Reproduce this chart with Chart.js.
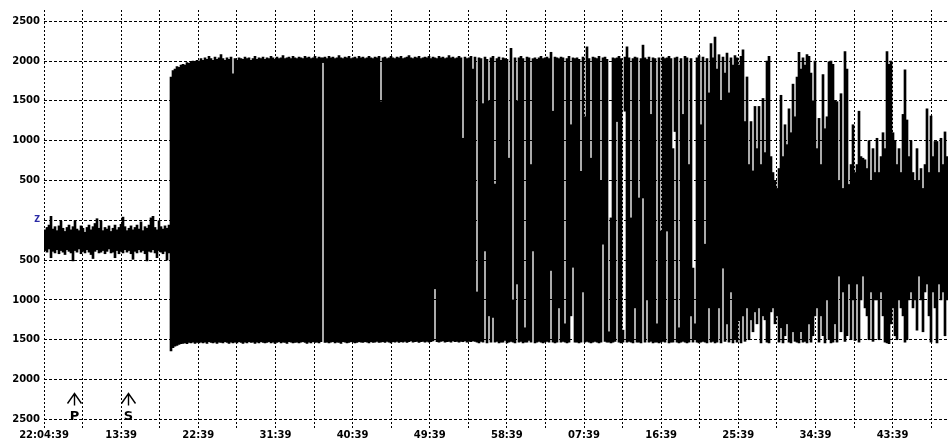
<!DOCTYPE html>
<html>
<head>
<meta charset="utf-8">
<title>Sismograma Z</title>
<script src="https://cdn.jsdelivr.net/npm/chart.js@4/dist/chart.umd.min.js"></script>
<style>
  html, body { margin: 0; padding: 0; background: #fff; }
  #wrap { width: 948px; height: 441px; }
</style>
</head>
<body>
<div id="wrap"><canvas id="sismo"></canvas></div>
<script>
// Tiempo en segundos desde 22:04:39; cada columna del trazo = 14 s (min / max)
const columnStep = 14;
const timeEnd = 6328;

// Ruido previo (antes de la llegada fuerte)
const preTop = [
  -120, -90, -60, 50, -110, -80, -130, -70, -10,
  -100, -140, -90, -60, -120, -80, 0, -110, -130,
  -70, -100, -150, -90, -60, -120, -80, -40, 20,
  -100, -10, -130, -90, -110, -70, -140, -100, -60,
  -120, -90, -50, 40, -80, -130, -100, -70, -120,
  -90, -60, -110, -20, -130, -80, -100, -60, 30,
  50, -90, -120, 0, -80, -110, -70, -100, -60
];
const preBottom = [
  -380, -400, -360, -470, -390, -410, -370, -420, -380,
  -400, -430, -370, -390, -410, -510, -380, -400, -360,
  -420, -390, -410, -370, -400, -430, -480, -390, -370,
  -410, -400, -380, -420, -390, -360, -410, -400, -470,
  -380, -420, -390, -410, -370, -400, -380, -420, -490,
  -390, -410, -370, -400, -380, -420, -510, -390, -400,
  -370, -410, -470, -380, -400, -420, -390, -500, -410
];

// Bloque saturado
const mainTop = [
  1800, 1880, 1900, 1930, 1920, 1950, 1960, 1950, 1980, 1970, 1990, 2000, 1990, 2010, 2000, 2030,
  2010, 2040, 2020, 2060, 2030, 2010, 2050, 2020, 2040, 2080, 2030, 2010, 2040, 2020, 2050, 1840,
  2030, 2010, 2040, 2030, 2020, 2050, 2030, 2040, 2010, 2030, 2060, 2020, 2040, 2030, 2050, 2020,
  2040, 2030, 2060, 2040, 2020, 2050, 2030, 2040, 2070, 2030, 2040, 2050, 2030, 2060, 2040, 2030,
  2050, 2040, 2030, 2060, 2040, 2050, 2030, 2040, 2060, 2030, 2050, 2040, 2040, 2050, 2030, 2060,
  2040, 2050, 2030, 2040, 2070, 2040, 2030, 2050, 2040, 2060, 2030, 2040, 2050, 2030, 2060, 2040,
  2050, 2030, 2040, 2060, 2040, 2030, 2050, 2040, 2060, 1490, 2040, 2050, 2030, 2040, 2060, 2040,
  2030, 2050, 2040, 2060, 2030, 2040, 2050, 2070, 2040, 2030, 2050, 2040, 2060, 2030, 2040, 2050,
  2040, 2060, 2030, 2050, 2040, 2030, 2060, 2040, 2050, 2030, 2040, 2070, 2040, 2050, 2030, 2040,
  2060, 2040, 1030, 2050, 2030, 2040, 2060, 1900, 2050
];
const mainBottom = [
  -1640, -1600, -1580, -1570, -1560, -1550, -1545, -1540, -1550, -1535, -1540, -1530, -1545, -1535, -1540, -1530,
  -1540, -1530, -1545, -1525, -1535, -1540, -1530, -1545, -1530, -1535, -1540, -1525, -1535, -1545, -1530, -1540,
  -1530, -1540, -1525, -1535, -1545, -1530, -1540, -1525, -1535, -1530, -1545, -1530, -1540, -1525, -1535, -1540,
  -1535, -1525, -1540, -1530, -1545, -1535, -1525, -1540, -1530, -1535, -1545, -1525, -1530, -1540, -1535, -1530,
  -1540, -1530, -1525, -1535, -1545, -1530, -1540, -1525, -1535, -1530, -1540, -1525, 1980, -1535, -1530, -1540,
  -1530, -1525, -1540, -1530, -1535, -1545, -1525, -1530, -1540, -1535, -1525, -1530, -1540, -1535, -1525, -1530,
  -1535, -1525, -1530, -1540, -1525, -1535, -1530, -1520, -1535, -1530, -1525, -1535, -1520, -1530, -1540, -1525,
  -1530, -1520, -1535, -1525, -1530, -1520, -1535, -1525, -1515, -1530, -1525, -1520, -1535, -1525, -1520, -1530,
  -1520, -1530, -1525, -1515, -860, -1525, -1530, -1520, -1515, -1530, -1525, -1520, -1530, -1515, -1525, -1520,
  -1530, -1520, -1525, -1515, -1530, -1520, -1525, -1515, -1520
];

// Coda (columnas cada vez menos llenas)
const codaTop = [
  -900, 2040, 2030, 1465, 2050, 2020, 1500, 2040, 2060, 455,
  2030, 2050, 2010, 2040, 2030, 2020, 780, 2160, -1000, 2040,
  1500, 2040, 2060, 2030, -1350, 2050, 2040, 700, 2030, 2040,
  2020, 2040, 2060, 2030, 2040, 2050, 2030, 2110, 1370, 2050,
  2040, 2030, 2050, 2040, -1300, 2030, 2060, 1200, 2040, 2030,
  2040, 2020, 615, 2050, 1300, 2180, 2030, 780, 2050, 2040,
  2030, 2060, 490, 2040, 2050, 2020, -1400, 30, 2040, 2030,
  2040, 2060, 2030, -1380, 2050, 2180, 2040, 30, 2030, 2050,
  2040, 280, 2030, 2200, 2040, 2020, 2050, 1330, 2040, 2030,
  -1300, 2040, -135, 2050, 2030, 2040, 2060, 2030, 900, 2040,
  2050, -1350, 2030, 1330, 2060, 2040, 700, 2030, -600, -1300,
  2040, 2070, 1200, 2050, -300, 2030, 1600, 2220, 2040, 2300,
  1900, 2080, 1500, 2050, 1850, 2100, 1600, 2040, 1950, 2070,
  2040, 1950, 2060, 2140, 1240, 1800, 700, 1240, 620, 1430,
  900, 1430, 700, 1530, 850, 2000, 2060, 800, 600, 500,
  400, 650, 1570, 800, 1200, 950, 1400, 1100, 1710, 1300,
  1800, 2110, 1900, 2040, 1950, 2080, 2060, 1850, 1500, 2000,
  900, 1280, 700, 1830, 1150, 1300, 1990, 2000, 1960, 1500,
  1490, 500, 1590, 400, 2120, 1900, 450, 700, 1200, 600,
  700, 1370, 800, 780, 760, 650, 1000, 500, 900, 600,
  1030, 600, 800, 1100, 900, 2120, 1960, 2000, 1100, 1000,
  700, 900, 600, 1330, 1890, 1260, 800, 1000, 600, 500,
  900, 500, 650, 400, 700, 1400, 600, 1310, 800, 990,
  990, 600, 1030, 700, 1110, 800
];
const codaBottom = [
  -1530, -1540, -1520, -1530, -385, -1540, -1200, -1530, -1220, -1530,
  -1520, -1540, -1530, -1530, -1510, -1540, -1530, -1520, -1530, -1540,
  -800, -1530, -1520, -1540, -1530, -1530, -1510, -1530, -385, -1540,
  -1530, -1520, -1530, -1540, -1530, -1520, -1530, -630, -1530, -1540,
  -1530, -1100, -1530, -1520, -1530, -1540, -1530, -1200, -590, -1530,
  -1530, -1540, -1530, -900, -1530, -1520, -1530, -1540, -1530, -1520,
  -1530, -1540, -1530, -300, -1520, -1530, -1530, -1540, -1530, -1520,
  1240, -1530, -1540, -1530, 1370, -1530, -1520, -1530, -1540, -1100,
  -1530, -1530, -1540, 280, -1530, -1000, -1530, -1520, -1540, -1530,
  -1530, -1540, -1530, -1520, -1530, -135, -1540, -1530, -1530, 1115,
  -1530, -1540, -1530, -1520, -1530, -1540, -1530, -1200, -1530, -1500,
  -1530, -1540, -1530, -1520, -1530, -1540, -1100, -1530, -1520, -1540,
  -1530, -1100, -1540, -600, -1520, -1300, -1530, -900, -1540, -1500,
  -1530, -1260, -1540, -1200, -1520, -1100, -1500, -1250, -1400, -1150,
  -1300, -1100, -1540, -1200, -1250, -1530, -1540, -1150, -1100, -1300,
  -1200, -1530, -1350, -1540, -1450, -1300, -1530, -1540, -1400, -1520,
  -1530, -1540, -1400, -1530, -1520, -1540, -1300, -1530, -1450, -1200,
  -1100, -1530, -1200, -1450, -1540, -1000, -1500, -1540, -1530, -1300,
  -1530, -700, -1400, -900, -1520, -1450, -800, -1500, -1000, -1510,
  -800, -1530, -1000, -700, -1100, -1200, -1500, -900, -1520, -1000,
  -1000, -1500, -900, -1200, -1530, -1540, -1550, -1300, -1100, -1450,
  -1500, -1000, -1100, -1200, -1530, -1500, -1000, -900, -1100, -1000,
  -1380, -700, -1000, -1400, -900, -800, -1200, -1530, -900, -1100,
  -1540, -800, -1000, -900, -1450, -1000
];

// Ejes
const xGridStep = 270;
const xTickLabels = ['22:04:39', '13:39', '22:39', '31:39', '40:39', '49:39',
                     '58:39', '07:39', '16:39', '25:39', '34:39', '43:39'];
const yTicks = [2500, 2000, 1500, 1000, 500, 0, -500, -1000, -1500, -2000, -2500];

// Llegadas de fase
const phaseNames = ['P', 'S'];
const phaseTimes = [210, 586];

const traceTop = preTop.concat(mainTop, codaTop);
const traceBottom = preBottom.concat(mainBottom, codaBottom);
const columnas = traceTop.map((v, i) => ({ x: columnStep / 2 + columnStep * i, y: [traceBottom[i], v] }));

const fuente = { family: '"DejaVu Sans", sans-serif', size: 10, weight: 'bold' };

const marcasFases = {
  id: 'marcasFases',
  afterDraw(chart) {
    const { ctx, chartArea, scales } = chart;
    ctx.save();
    ctx.strokeStyle = '#000';
    ctx.fillStyle = '#000';
    ctx.lineWidth = 1.4;
    ctx.font = 'bold 13px "DejaVu Sans", sans-serif';
    ctx.textAlign = 'center';
    ctx.textBaseline = 'alphabetic';
    phaseNames.forEach((n, i) => {
      const x = Math.round(scales.x.getPixelForValue(phaseTimes[i])) + 0.5;
      const top = chartArea.bottom - 35.5;
      ctx.beginPath();
      ctx.moveTo(x - 7, top + 10);
      ctx.lineTo(x, top);
      ctx.lineTo(x + 7, top + 10);
      ctx.moveTo(x, top);
      ctx.lineTo(x, top + 12);
      ctx.stroke();
      ctx.fillText(n, x, chartArea.bottom - 9);
    });
    ctx.restore();
  }
};

new Chart(document.getElementById('sismo'), {
  type: 'bar',
  data: {
    datasets: [{
      data: columnas,
      backgroundColor: '#000',
      borderWidth: 0,
      barPercentage: 1,
      categoryPercentage: 1
    }]
  },
  options: {
    responsive: true,
    maintainAspectRatio: false,
    animation: false,
    layout: { padding: { top: 9, left: 0, right: 0, bottom: 0 } },
    plugins: { legend: { display: false }, tooltip: { enabled: false } },
    scales: {
      x: {
        type: 'linear',
        min: 0,
        max: timeEnd,
        offset: false,
        z: 1,
        grid: { offset: false, color: '#000', lineWidth: 1, drawTicks: false },
        border: { display: false, dash: [2, 2] },
        afterBuildTicks: s => { s.ticks = Array.from({ length: xTickLabels.length * 2 }, (_, k) => ({ value: k * xGridStep })); },
        afterFit: s => { s.height = 12; },
        ticks: {
          autoSkip: false,
          maxRotation: 0,
          padding: 0,
          color: '#000',
          font: fuente,
          callback: (v, i) => (i % 2 === 0 ? xTickLabels[i / 2] : '')
        }
      },
      y: {
        min: -2621,
        max: 2641,
        z: 1,
        grid: { color: '#000', lineWidth: 1, drawTicks: false },
        border: { display: false, dash: [3, 2] },
        afterBuildTicks: s => { s.ticks = yTicks.map(v => ({ value: v })); },
        afterFit: s => { s.width = 44; },
        ticks: {
          padding: 4,
          color: c => (c.tick && c.tick.value === 0 ? '#2a2aa6' : '#000'),
          font: c => (c.tick && c.tick.value === 0 ? { family: fuente.family, size: 8, weight: 'bold' } : fuente),
          callback: v => (v === 0 ? 'Z' : String(Math.abs(v)))
        }
      }
    }
  },
  plugins: [marcasFases]
});
</script>
</body>
</html>
